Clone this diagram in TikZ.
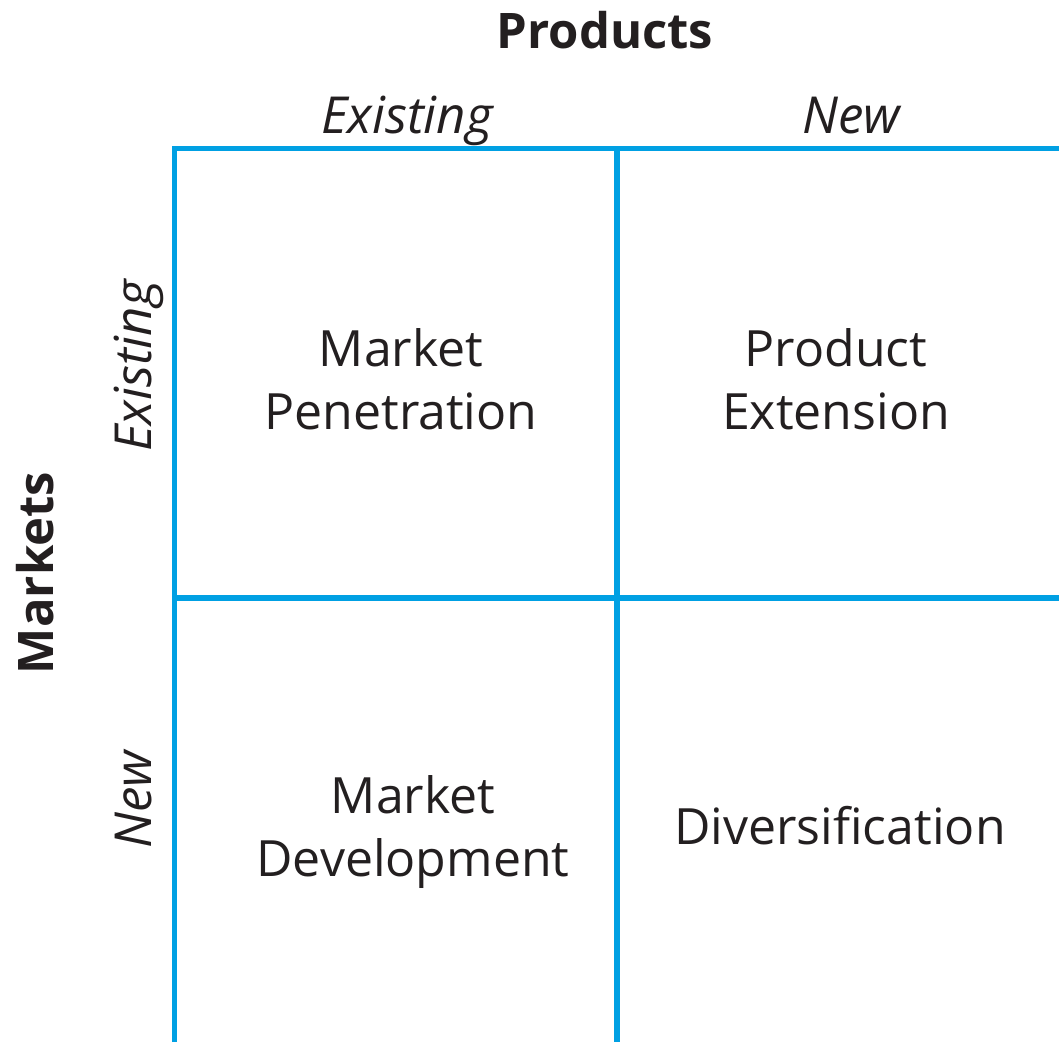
\documentclass[tikz,border=0pt]{standalone}
\usepackage{fontspec}
\setmainfont{Open Sans}
\definecolor{gridblue}{RGB}{0,160,227}
\definecolor{inkc}{RGB}{35,31,32}
\begin{document}
\begin{tikzpicture}[x=1pt,y=-1pt,
  gridline/.style={draw=gridblue,line width=5.5pt},
  celltext/.style={anchor=base,inner sep=0pt,text=inkc,font=\fontsize{50}{60}\selectfont},
  headtext/.style={anchor=base,inner sep=0pt,text=inkc,font=\fontsize{51}{61}\selectfont\itshape},
  titletext/.style={anchor=base,inner sep=0pt,text=inkc,font=\fontsize{49}{59}\selectfont\bfseries}]
\useasboundingbox (0,0) rectangle (1059,1042);
% grid
\coordinate (tl) at (174.5,148.5);
\coordinate (tm) at (617,148.5);
\coordinate (tr) at (1059,148.5);
\coordinate (ml) at (174.5,598);
\coordinate (mm) at (617,598);
\coordinate (mr) at (1059,598);
\coordinate (bl) at (174.5,1042);
\coordinate (bm) at (617,1042);
\draw[gridline] (bl) -- (tl) -- (tr);
\draw[gridline] (tm) -- (bm);
\draw[gridline] (ml) -- (mr);
% titles
\node[titletext] (products) at (605,48) {Products};
\node[titletext,rotate=90] (markets) at (53,573) {Markets};
% column headers
\node[headtext] (colex) at (407,133) {Existing};
\node[headtext] (colnew) at (851,133) {New};
% row headers
\node[headtext,rotate=90] (rowex) at (151,366) {Existing};
\node[headtext,rotate=90] (rownew) at (151,800) {New};
% cells
\node[celltext] (mp1) at (401,366) {Market};
\node[celltext] (mp2) at (401,429) {Penetration};
\node[celltext] (pe1) at (836,366) {Product};
\node[celltext] (pe2) at (836,429) {Extension};
\node[celltext] (md1) at (413,813) {Market};
\node[celltext] (md2) at (413,876) {Development};
\node[celltext] (dv) at (840,844) {Diversification};
\end{tikzpicture}
\end{document}
